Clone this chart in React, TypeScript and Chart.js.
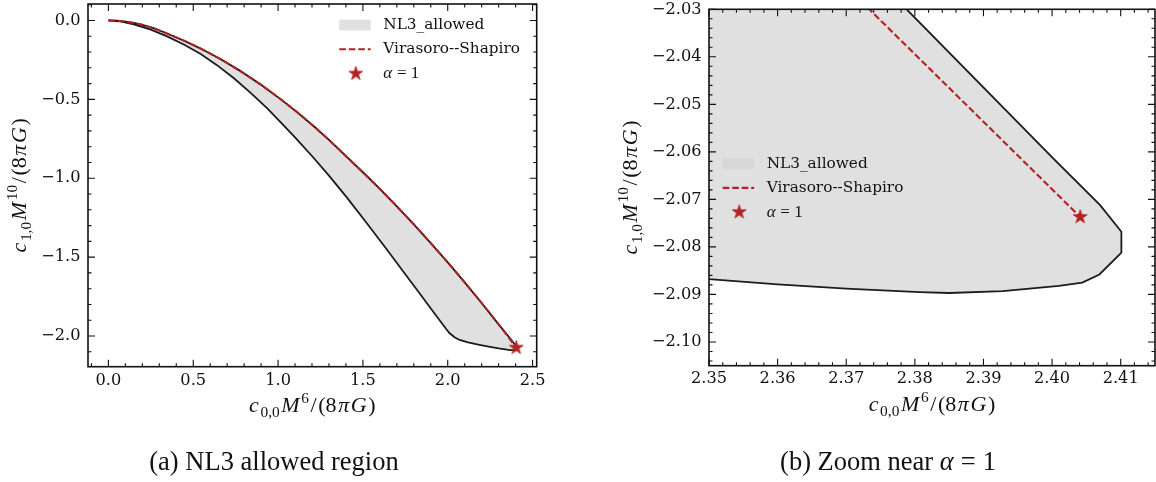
import React, { useEffect, useRef } from "react";
import { Chart, registerables } from "chart.js";

Chart.register(...registerables);

// ---------------- data ----------------
// upper edge of the NL3 allowed region, from the origin to the tip
const UPPER_X = [0, 0.05, 0.1, 0.15, 0.2, 0.275, 0.349, 0.45, 0.544, 0.66, 0.779, 0.9, 1.013, 1.11, 1.209, 1.305, 1.405, 1.5, 1.6, 1.7, 1.8, 1.9, 2.0, 2.1, 2.2, 2.3, 2.3788, 2.4002, 2.407, 2.4101];
const UPPER_Y = [0, -0.0017, -0.0069, -0.0155, -0.0276, -0.0522, -0.084, -0.13, -0.178, -0.244, -0.321, -0.408, -0.497, -0.579, -0.669, -0.762, -0.865, -0.962, -1.068, -1.178, -1.292, -1.411, -1.533, -1.66, -1.791, -1.926, -2.03, -2.0614, -2.0712, -2.0768];
// lower edge of the allowed region, from the origin to the tip
const LOWER_X = [0, 0.07, 0.15, 0.25, 0.349, 0.45, 0.544, 0.64, 0.74, 0.84, 0.935, 1.013, 1.1, 1.209, 1.3, 1.405, 1.52, 1.64, 1.74, 1.835, 1.92, 1.992, 2.01, 2.04, 2.07, 2.12, 2.187, 2.25, 2.3, 2.35, 2.36, 2.37, 2.3807, 2.385, 2.3928, 2.401, 2.4044, 2.4069, 2.4101];
const LOWER_Y = [0, -0.006, -0.024, -0.058, -0.102, -0.155, -0.213, -0.283, -0.366, -0.46, -0.556, -0.642, -0.741, -0.87, -0.983, -1.121, -1.28, -1.45, -1.594, -1.73, -1.854, -1.957, -1.981, -2.008, -2.025, -2.041, -2.056, -2.069, -2.079, -2.0868, -2.0879, -2.0888, -2.0895, -2.0897, -2.0893, -2.0882, -2.0875, -2.0858, -2.0812];
// Virasoro--Shapiro curve
const VS_X = [0, 0.05, 0.1, 0.15, 0.2, 0.275, 0.349, 0.45, 0.544, 0.66, 0.779, 0.9, 1.013, 1.11, 1.209, 1.305, 1.405, 1.5, 1.6, 1.7, 1.8, 1.9, 2.0, 2.1, 2.2, 2.3, 2.3735, 2.4041];
const VS_Y = [0, -0.0017, -0.0069, -0.0155, -0.0276, -0.0522, -0.084, -0.13, -0.178, -0.244, -0.321, -0.408, -0.497, -0.579, -0.669, -0.762, -0.865, -0.962, -1.068, -1.178, -1.292, -1.411, -1.533, -1.66, -1.791, -1.926, -2.0302, -2.0737];
// alpha = 1 point
const STAR_X = [2.4041];
const STAR_Y = [-2.0737];

// axis ranges and tick labels
const LEFT_X_RANGE = [-0.1202, 2.5244];
const LEFT_Y_RANGE = [-2.1945, 0.1045];
const LEFT_X_TICKS = [0, 0.5, 1.0, 1.5, 2.0, 2.5];
const LEFT_Y_TICKS = [0, -0.5, -1.0, -1.5, -2.0];
const RIGHT_X_RANGE = [2.35, 2.415];
const RIGHT_Y_RANGE = [-2.105, -2.03];
const RIGHT_X_TICKS = [2.35, 2.36, 2.37, 2.38, 2.39, 2.4, 2.41];
const RIGHT_Y_TICKS = [-2.03, -2.04, -2.05, -2.06, -2.07, -2.08, -2.09, -2.1];

const LEGEND_LABELS = ["NL3_allowed", "Virasoro--Shapiro"];
const CAPTIONS = ["(a) NL3 allowed region", "(b) Zoom near "];

// ---------------- styles ----------------
const FILL = "rgba(211,211,211,0.7)";
const RED = "#b22222";
const EDGE = "#1c1c1c";
const INK = "#111111";
const SERIF = '"DejaVu Serif", serif';
const MATH = '"Liberation Serif", "Times New Roman", serif';
const TICK_SIZE = 16.2;
const LEGEND_SIZE = 15.3;
const TITLE_SIZE = 22;
const TITLE_GAP = 1.6;

type Run = { t: string; it?: boolean; pos?: "sub" | "sup" };

const X_TITLE: Run[] = [
  { t: "c", it: true }, { t: "0,0", pos: "sub" }, { t: "M", it: true }, { t: "6", pos: "sup" },
  { t: "/" }, { t: "(8" }, { t: "π", it: true }, { t: "G", it: true }, { t: ")" },
];
const Y_TITLE: Run[] = [
  { t: "c", it: true }, { t: "1,0", pos: "sub" }, { t: "M", it: true }, { t: "10", pos: "sup" },
  { t: "/" }, { t: "(8" }, { t: "π", it: true }, { t: "G", it: true }, { t: ")" },
];
const ALPHA_LABEL: Run[] = [{ t: "α", it: true }, { t: " = 1" }];

function drawRuns(ctx: CanvasRenderingContext2D, runs: Run[], x: number, y: number, size: number, align: "center" | "left", gap: number) {
  const fontFor = (r: Run) => `${r.it ? "italic " : ""}${r.pos ? size * 0.7 : size}px ${MATH}`;
  let total = 0;
  const widths = runs.map((r) => {
    ctx.font = fontFor(r);
    const w = ctx.measureText(r.t).width;
    total += w;
    return w;
  });
  total += gap * (runs.length - 1);
  let cx = align === "center" ? x - total / 2 : x;
  ctx.textAlign = "left";
  runs.forEach((r, i) => {
    ctx.font = fontFor(r);
    const dy = r.pos === "sub" ? size * 0.22 : r.pos === "sup" ? -size * 0.42 : 0;
    ctx.fillText(r.t, cx, y + dy);
    cx += widths[i] + gap;
  });
}

function makeStar(R: number, color: string): HTMLCanvasElement {
  const size = Math.ceil(R + 2) * 2;
  const c = document.createElement("canvas");
  c.width = size;
  c.height = size;
  const g = c.getContext("2d")!;
  const r = R * 0.381966;
  g.beginPath();
  for (let i = 0; i < 10; i++) {
    const a = -Math.PI / 2 + (i * Math.PI) / 5;
    const rr = i % 2 === 0 ? R : r;
    g.lineTo(size / 2 + rr * Math.cos(a), size / 2 + rr * Math.sin(a));
  }
  g.closePath();
  g.fillStyle = color;
  g.fill();
  g.lineWidth = 0.8;
  g.strokeStyle = color;
  g.stroke();
  return c;
}

const pts = (xs: number[], ys: number[]) => xs.map((x, i) => ({ x, y: ys[i] }));

type Panel = {
  xRange: number[]; yRange: number[]; xTicks: number[]; yTicks: number[];
  xMinor: number; yMinor: number; dec: number;
  pad: { left: number; top: number; right: number; bottom: number };
  yAxisW: number; xAxisH: number; xTickPad: number; yTickPad: number;
  xTitleY: number; yTitleX: number;
  legend: { x: number; y: number; dy: number };
};

function minors(min: number, max: number, step: number, majors: number[]) {
  const out: number[] = [];
  const i0 = Math.ceil(min / step - 1e-6);
  const i1 = Math.floor(max / step + 1e-6);
  for (let i = i0; i <= i1; i++) {
    const v = i * step;
    if (!majors.some((m) => Math.abs(m - v) < step * 0.01)) out.push(v);
  }
  return out;
}

function decorPlugin(p: Panel, star: HTMLCanvasElement) {
  return {
    id: "mplDecor",
    afterDraw(chart: any) {
      const ctx: CanvasRenderingContext2D = chart.ctx;
      const { left, right, top, bottom } = chart.chartArea;
      const xs = chart.scales.x;
      const ys = chart.scales.y;
      ctx.save();
      ctx.strokeStyle = INK;
      ctx.lineWidth = 1.1;
      const tx = (v: number, len: number) => {
        const q = xs.getPixelForValue(v);
        ctx.beginPath();
        ctx.moveTo(q, bottom); ctx.lineTo(q, bottom - len);
        ctx.moveTo(q, top); ctx.lineTo(q, top + len);
        ctx.stroke();
      };
      const ty = (v: number, len: number) => {
        const q = ys.getPixelForValue(v);
        ctx.beginPath();
        ctx.moveTo(left, q); ctx.lineTo(left + len, q);
        ctx.moveTo(right, q); ctx.lineTo(right - len, q);
        ctx.stroke();
      };
      p.xTicks.forEach((v) => tx(v, 7));
      p.yTicks.forEach((v) => ty(v, 7));
      minors(p.xRange[0], p.xRange[1], p.xMinor, p.xTicks).forEach((v) => tx(v, 3.5));
      minors(p.yRange[0], p.yRange[1], p.yMinor, p.yTicks).forEach((v) => ty(v, 3.5));
      ctx.lineWidth = 1.6;
      ctx.strokeRect(left, top, right - left, bottom - top);

      // axis titles
      ctx.fillStyle = INK;
      ctx.textBaseline = "alphabetic";
      drawRuns(ctx, X_TITLE, (left + right) / 2, p.xTitleY, TITLE_SIZE, "center", TITLE_GAP);
      ctx.save();
      ctx.translate(p.yTitleX, (top + bottom) / 2);
      ctx.rotate(-Math.PI / 2);
      drawRuns(ctx, Y_TITLE, 0, 0, TITLE_SIZE, "center", TITLE_GAP);
      ctx.restore();

      // legend
      const L = p.legend;
      const hw = 31.4;
      ctx.fillStyle = FILL;
      ctx.fillRect(L.x, L.y - 5.35, hw, 10.7);
      ctx.strokeStyle = RED;
      ctx.lineWidth = 2.1;
      ctx.setLineDash([6.6, 2.9]);
      ctx.beginPath();
      ctx.moveTo(L.x, L.y + L.dy);
      ctx.lineTo(L.x + hw, L.y + L.dy);
      ctx.stroke();
      ctx.setLineDash([]);
      ctx.drawImage(star, L.x + 16.5 - star.width / 2, L.y + 2 * L.dy - star.height / 2);
      ctx.fillStyle = INK;
      ctx.textBaseline = "middle";
      ctx.textAlign = "left";
      ctx.font = `${LEGEND_SIZE}px ${SERIF}`;
      ctx.fillText(LEGEND_LABELS[0], L.x + 44, L.y);
      ctx.fillText(LEGEND_LABELS[1], L.x + 44, L.y + L.dy);
      drawRuns(ctx, ALPHA_LABEL, L.x + 44, L.y + 2 * L.dy, 17, "left", 0.5);
      ctx.restore();
    },
  };
}

function fmt(v: number, dec: number) {
  const s = (Math.abs(v) < 1e-12 ? 0 : v).toFixed(dec);
  return s.replace("-", "\u2212");
}

function makeConfig(p: Panel, star: HTMLCanvasElement): any {
  const tickFont = { family: SERIF, size: TICK_SIZE };
  return {
    type: "scatter",
    data: {
      datasets: [
        {
          data: [...pts(UPPER_X, UPPER_Y), ...pts(LOWER_X, LOWER_Y).reverse()],
          order: 3,
          showLine: true, fill: "shape", backgroundColor: FILL, borderColor: EDGE,
          borderWidth: 1.8, pointRadius: 0, pointHoverRadius: 0, tension: 0,
        },
        {
          data: pts(VS_X, VS_Y), order: 2, showLine: true, fill: false, borderColor: RED,
          borderWidth: 2.1, borderDash: [6.6, 2.9], pointRadius: 0, pointHoverRadius: 0, tension: 0,
        },
        {
          data: pts(STAR_X, STAR_Y), order: 1, showLine: false, pointStyle: star, pointRadius: 8,
          pointHoverRadius: 8, backgroundColor: RED, borderColor: RED,
        },
      ],
    },
    options: {
      animation: false,
      responsive: false,
      maintainAspectRatio: false,
      events: [],
      layout: { padding: p.pad, autoPadding: false },
      plugins: { legend: { display: false }, tooltip: { enabled: false } },
      scales: {
        x: {
          type: "linear", min: p.xRange[0], max: p.xRange[1],
          grid: { display: false, drawTicks: false }, border: { display: false },
          ticks: { font: tickFont, color: INK, padding: p.xTickPad, maxRotation: 0, autoSkip: false,
            callback: (v: any) => fmt(Number(v), p.dec) },
          afterBuildTicks: (s: any) => { s.ticks = p.xTicks.map((v) => ({ value: v })); },
          afterFit: (s: any) => { s.height = p.xAxisH; s.paddingLeft = 0; s.paddingRight = 0; },
        },
        y: {
          type: "linear", min: p.yRange[0], max: p.yRange[1],
          grid: { display: false, drawTicks: false }, border: { display: false },
          ticks: { font: tickFont, color: INK, padding: p.yTickPad, autoSkip: false,
            callback: (v: any) => fmt(Number(v), p.dec) },
          afterBuildTicks: (s: any) => { s.ticks = p.yTicks.map((v) => ({ value: v })); },
          afterFit: (s: any) => { s.width = p.yAxisW; s.paddingTop = 0; s.paddingBottom = 0; },
        },
      },
    },
    plugins: [decorPlugin(p, star)],
  };
}

const LEFT_PANEL: Panel = {
  xRange: LEFT_X_RANGE, yRange: LEFT_Y_RANGE, xTicks: LEFT_X_TICKS, yTicks: LEFT_Y_TICKS,
  xMinor: 0.1, yMinor: 0.1, dec: 1,
  pad: { left: 0, top: 4, right: 41.3, bottom: 0 },
  yAxisW: 88, xAxisH: 115.3, xTickPad: 4, yTickPad: 7.5,
  xTitleY: 412, yTitleX: 26,
  legend: { x: 339.3, y: 25, dy: 24.3 },
};

const RIGHT_PANEL: Panel = {
  xRange: RIGHT_X_RANGE, yRange: RIGHT_Y_RANGE, xTicks: RIGHT_X_TICKS, yTicks: RIGHT_Y_TICKS,
  xMinor: 0.002, yMinor: 0.002, dec: 2,
  pad: { left: 0, top: 9.3, right: 1, bottom: 0 },
  yAxisW: 131, xAxisH: 116.3, xTickPad: 3.5, yTickPad: 7.5,
  xTitleY: 411, yTitleX: 59,
  legend: { x: 144.7, y: 163.7, dy: 24.2 },
};

export default function App() {
  const leftRef = useRef<HTMLCanvasElement>(null);
  const rightRef = useRef<HTMLCanvasElement>(null);

  useEffect(() => {
    const star = makeStar(7.3, RED);
    const c1 = new Chart(leftRef.current!, makeConfig(LEFT_PANEL, star));
    const c2 = new Chart(rightRef.current!, makeConfig(RIGHT_PANEL, star));
    return () => {
      c1.destroy();
      c2.destroy();
    };
  }, []);

  const captionStyle: React.CSSProperties = {
    position: "absolute", top: 446, height: 30, lineHeight: "30px", textAlign: "center",
    fontFamily: MATH, fontSize: 26.5, color: INK, whiteSpace: "nowrap",
  };

  return (
    <div style={{ position: "absolute", left: 0, top: 0, width: 1156, height: 482, background: "#fff", overflow: "hidden" }}>
      <canvas ref={leftRef} width={578} height={482} style={{ position: "absolute", left: 0, top: 0, width: 578, height: 482 }} />
      <canvas ref={rightRef} width={578} height={482} style={{ position: "absolute", left: 578, top: 0, width: 578, height: 482 }} />
      <div style={{ ...captionStyle, left: 74, width: 400 }}>{CAPTIONS[0]}</div>
      <div style={{ ...captionStyle, left: 688, width: 400 }}>
        {CAPTIONS[1]}
        <i>α</i>
        <span style={{ margin: "0 7px" }}>=</span>1
      </div>
    </div>
  );
}
